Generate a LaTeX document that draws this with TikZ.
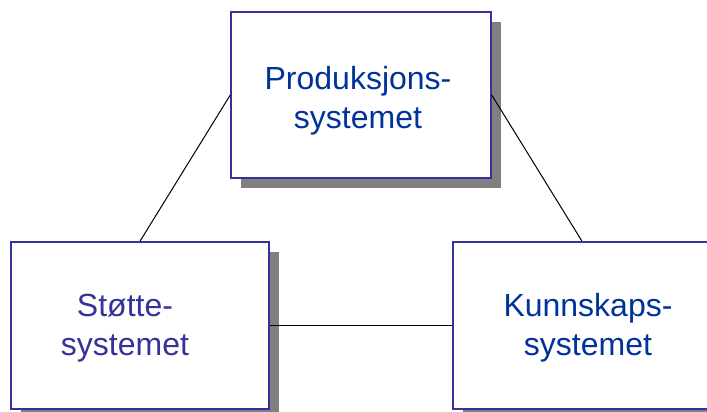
\documentclass[tikz,border=0pt]{standalone}
\usepackage{fontspec}
\setmainfont{Liberation Sans}
\usetikzlibrary{shadows}
\definecolor{boxline}{RGB}{51,51,153}
\definecolor{textblue}{RGB}{0,51,153}
\definecolor{textpurple}{RGB}{51,51,153}
\definecolor{shadowgray}{RGB}{128,128,128}
\tikzset{
  sysbox/.style={draw=boxline, line width=1.5pt, fill=white, inner sep=0pt,
    drop shadow={shadow xshift=10pt, shadow yshift=-10pt, fill=shadowgray, opacity=1}},
  label/.style={font=\fontsize{32}{39}\selectfont, align=center, inner sep=0pt},
  link/.style={draw=black, line width=1pt}
}
\begin{document}
\begin{tikzpicture}[x=1pt, y=-1pt]
  \useasboundingbox (0,0) rectangle (707,412);
  \clip (0,0) rectangle (707,412);
  % the three systems
  \node[sysbox, minimum width=260pt, minimum height=166pt] (prod) at (361,95) {};
  \node[sysbox, minimum width=258pt, minimum height=167pt] (stotte) at (140,325.5) {};
  \node[sysbox, minimum width=258pt, minimum height=167pt] (know) at (582,325.5) {};
  % labels
  \node[label, text=textblue] (prodtxt) at (358,101) {Produksjons-\\systemet};
  \node[label, text=textpurple] (stottetxt) at (125,328) {Støtte-\\systemet};
  \node[label, text=textblue] (knowtxt) at (588,328) {Kunnskaps-\\systemet};
  % connections
  \draw[link] (stotte.north) -- (prod.west);
  \draw[link] (prod.east) -- (know.north);
  \draw[link] (stotte.east) -- (know.west);
\end{tikzpicture}
\end{document}
